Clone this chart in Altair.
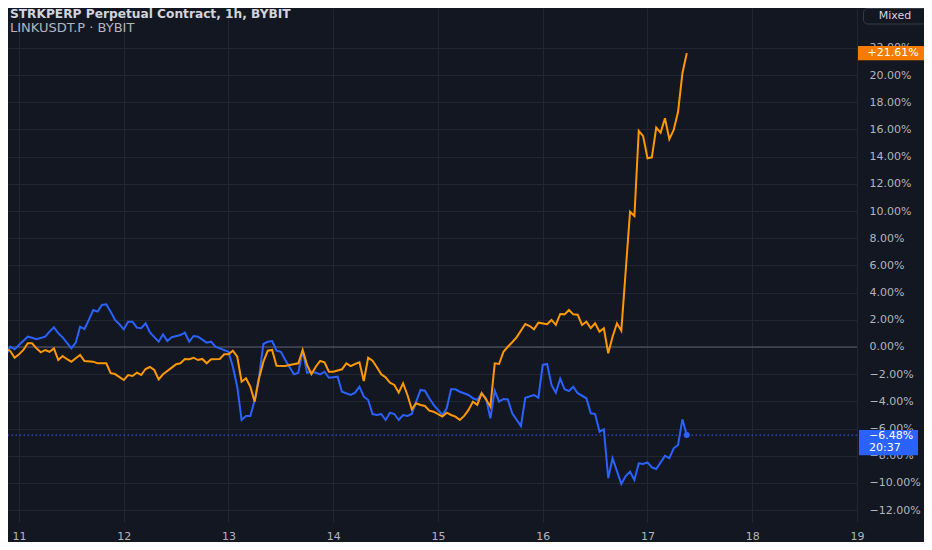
import altair as alt
import pandas as pd

# ---- data (hours after 11 Oct 00:00, % change) ----
strk_hours = [-4, -3, -2, -1, 0, 2, 3, 4, 6, 7, 8, 9, 10, 12, 13, 14, 15, 16, 17, 18,
              19, 20, 21, 22, 23, 24, 25, 26, 27, 28, 29, 30, 32, 33, 34, 35, 37, 38, 39, 40,
              41, 43, 44, 45, 46, 48, 49, 50, 51, 52, 53, 54, 55, 56, 57, 58, 59, 60, 61, 63,
              64, 65, 66, 67, 68, 69, 70, 71, 72, 73, 74, 76, 77, 78, 79, 80, 81, 82, 83, 84,
              85, 86, 87, 88, 89, 90, 91, 92, 93, 94, 95, 97, 98, 99, 100, 101, 103, 104, 105, 106,
              107, 108, 109, 110, 111, 112, 113, 115, 116, 118, 119, 120, 121, 122, 123, 124, 125, 126, 127, 128,
              130, 131, 132, 133, 134, 135, 136, 138, 139, 140, 141, 142, 143, 144, 145, 146, 148, 149, 150, 151,
              152, 153]
strk_pct = [0.27, -0.64, 0.02, -0.17, 0.15, 0.76, 0.68, 0.57, 0.76, 1.13, 1.45, 1.01, 0.71, -0.10, 0.32, 1.49, 1.32, 1.99, 2.72, 2.60,
            3.09, 3.14, 2.60, 1.99, 1.67, 1.30, 1.86, 1.86, 1.42, 1.38, 1.74, 1.08, 0.39, 0.93, 0.44, 0.72, 0.88, 1.05, 0.39, 0.81,
            0.76, 0.32, 0.39, 0.02, -0.10, -0.35, -1.45, -2.92, -5.37, -5.07, -5.07, -3.90, -2.18, 0.22, 0.39, 0.44, -0.27, -0.35, -0.96, -2.01,
            -1.89, -0.27, -1.89, -1.82, -1.89, -2.01, -1.82, -2.26, -2.22, -2.18, -3.29, -3.53, -3.36, -2.92, -3.65, -3.90, -4.93, -5.00, -4.93, -5.37,
            -4.83, -4.93, -5.37, -5.00, -5.07, -4.93, -4.02, -3.16, -3.21, -3.77, -4.26, -5.00, -4.51, -3.11, -3.11, -3.29, -3.53, -3.77, -3.90, -3.40,
            -3.77, -5.24, -3.21, -4.02, -3.82, -3.85, -4.88, -5.81, -3.73, -3.53, -3.73, -1.32, -1.25, -2.79, -3.36, -2.33, -3.11, -3.24, -2.92, -3.40,
            -3.77, -4.88, -4.93, -6.23, -6.05, -9.65, -8.18, -10.07, -9.49, -9.17, -9.78, -8.55, -8.60, -8.48, -8.85, -8.97, -8.01, -8.18, -7.45, -7.21,
            -5.32, -6.48]

link_hours = [-4, -3, -2, -1, 0, 1, 2, 3, 4, 5, 6, 7, 8, 9, 10, 11, 12, 13, 14, 15,
              17, 18, 20, 21, 22, 24, 25, 26, 27, 28, 29, 30, 31, 32, 33, 35, 36, 37, 38, 39,
              40, 41, 42, 43, 44, 46, 47, 48, 49, 50, 51, 52, 53, 54, 55, 56, 57, 58, 59, 61,
              62, 64, 65, 66, 67, 68, 69, 70, 71, 72, 74, 75, 76, 77, 78, 79, 80, 81, 82, 83,
              84, 85, 86, 87, 88, 89, 90, 91, 92, 93, 94, 95, 97, 98, 99, 100, 101, 102, 103, 104,
              105, 106, 107, 108, 109, 110, 111, 112, 113, 114, 116, 117, 118, 119, 121, 122, 123, 124, 125, 126,
              127, 128, 129, 130, 131, 132, 133, 134, 135, 136, 137, 138, 140, 141, 142, 143, 144, 145, 146, 147,
              148, 149, 150, 151, 152, 153]
link_pct = [0.02, -0.15, -0.29, -0.79, -0.54, -0.22, 0.27, 0.27, -0.10, -0.39, -0.22, -0.35, -0.10, -0.96, -0.66, -0.90, -1.08, -0.83, -0.59, -1.03,
            -1.08, -1.20, -1.20, -1.93, -1.99, -2.43, -2.06, -2.13, -1.89, -2.06, -1.62, -1.47, -1.69, -2.38, -2.01, -1.52, -1.27, -1.20, -0.88, -0.90,
            -0.79, -0.96, -0.88, -1.20, -0.90, -0.88, -0.54, -0.54, -0.27, -0.71, -2.55, -2.30, -2.92, -4.02, -2.30, -1.08, -0.27, -0.22, -1.38, -1.40,
            -1.32, -1.20, -0.22, -1.32, -1.99, -1.45, -1.03, -1.13, -1.82, -1.82, -1.64, -1.20, -1.40, -1.25, -1.13, -2.50, -0.79, -1.01, -1.49, -2.01,
            -2.23, -2.63, -2.79, -3.36, -2.67, -3.53, -4.58, -4.14, -4.26, -4.34, -4.68, -4.76, -5.12, -4.83, -5.00, -5.12, -5.37, -5.07, -4.63, -4.02,
            -4.26, -3.40, -3.85, -4.39, -1.20, -1.25, -0.35, 0.02, 0.35, 0.71, 1.69, 1.54, 1.30, 1.79, 1.67, 1.99, 1.62, 2.43, 2.40, 2.72,
            2.40, 2.38, 1.62, 1.86, 1.38, 1.74, 1.13, 1.38, -0.46, 0.76, 1.74, 1.20, 9.95, 9.63, 15.90, 15.51, 13.88, 13.95, 16.13, 15.76,
            16.82, 15.29, 15.96, 17.30, 20.13, 21.61]

y_ticks = [-12, -10, -8, -6, -4, -2, 0, 2, 4, 6, 8, 10, 12, 14, 16, 18, 20, 22]
x_ticks = [11, 12, 13, 14, 15, 16, 17, 18, 19]
title_main = "STRKPERP Perpetual Contract, 1h, BYBIT"
title_compare = "LINKUSDT.P · BYBIT"
countdown = "20:37"

BG = "#131722"
GRID = "#222631"
LABEL = "#b2b5be"
BLUE = "#2962ff"
ORANGE = "#ff9800"
FONT = "DejaVu Sans"
FS = 11

strk = pd.DataFrame({"day": [11 + h / 24 for h in strk_hours], "pct": strk_pct})
link = pd.DataFrame({"day": [11 + h / 24 for h in link_hours], "pct": link_pct})

xscale = alt.Scale(domain=[10.895, 19.0], nice=False, zero=False)
yscale = alt.Scale(domain=[-12.87, 24.93], nice=False, zero=False)
xaxis = alt.Axis(values=x_ticks, labelExpr="format(datum.value, 'd')", title=None,
                 grid=True, gridColor=GRID, domain=False, ticks=False,
                 labelColor=LABEL, labelFont=FONT, labelFontSize=FS,
                 labelPadding=14, labelBaseline="middle", labelFlush=False,
                 labelOverlap=False, labelBound=False)
yaxis = alt.Axis(values=y_ticks, orient="right",
                 labelExpr="format(datum.value, '.2f') + '%'", title=None,
                 grid=True, gridColor=GRID, domain=False, ticks=False,
                 labelColor=LABEL, labelFont=FONT, labelFontSize=FS,
                 labelPadding=12, labelAlign="left", labelBaseline="middle",
                 labelFlush=False, labelOverlap=False, labelBound=False)


def X(field="day"):
    return alt.X(f"{field}:Q", scale=xscale, axis=xaxis)


def Y(field="pct"):
    return alt.Y(f"{field}:Q", scale=yscale, axis=yaxis)


zero_line = alt.Chart(pd.DataFrame({"pct": [0.0]})).mark_rule(
    color="#5d606b", strokeWidth=1).encode(y=Y())

last_strk = strk_pct[-1]
last_link = link_pct[-1]

price_line = alt.Chart(pd.DataFrame({"pct": [last_strk]})).mark_rule(
    color=BLUE, strokeWidth=1, strokeDash=[1.5, 2.5]).encode(y=Y())

strk_line = alt.Chart(strk).mark_line(color=BLUE, strokeWidth=2, clip=True).encode(x=X(), y=Y())
link_line = alt.Chart(link).mark_line(color=ORANGE, strokeWidth=2, clip=True).encode(x=X(), y=Y())

end_dot = alt.Chart(strk.tail(1)).mark_circle(color=BLUE, size=36, opacity=1).encode(x=X(), y=Y())

# price badges on the right scale
link_badge = alt.Chart(pd.DataFrame({"pct": [last_link]})).mark_point(
    shape="M-1,-0.21H1V0.21H-1Z", size=68 * 68, filled=True, fill="#f57c00",
    opacity=1, strokeWidth=0).encode(x=alt.value(884), y=Y())
link_badge_text = alt.Chart(pd.DataFrame({"pct": [last_link],
                                          "t": [f"+{last_link:.2f}%"]})).mark_text(
    color="white", font=FONT, fontSize=FS, align="center", baseline="middle").encode(
    x=alt.value(885), y=Y(), text="t:N")

strk_badge = alt.Chart(pd.DataFrame({"pct": [last_strk]})).mark_point(
    shape="M-1,-0.17H1V0.68H-1Z", size=59 * 59, filled=True, fill=BLUE,
    opacity=1, strokeWidth=0).encode(x=alt.value(880.5), y=Y())
strk_badge_text = alt.Chart(pd.DataFrame({"pct": [last_strk],
                                          "t": [f"\u2212{abs(last_strk):.2f}%"]})).mark_text(
    color="white", font=FONT, fontSize=FS, align="left", baseline="middle", dy=1).encode(
    x=alt.value(861), y=Y(), text="t:N")
strk_badge_time = alt.Chart(pd.DataFrame({"pct": [last_strk], "t": [countdown]})).mark_text(
    color="white", font=FONT, fontSize=FS, align="left", baseline="middle", dy=13).encode(
    x=alt.value(861), y=Y(), text="t:N")

# legend / header texts
t1 = alt.Chart(pd.DataFrame({"t": [title_main]})).mark_text(
    color="#d1d4dc", font=FONT, fontSize=12.2, fontWeight="bold", align="left",
    baseline="alphabetic").encode(x=alt.value(2), y=alt.value(10), text="t:N")
t2 = alt.Chart(pd.DataFrame({"t": [title_compare]})).mark_text(
    color=LABEL, font=FONT, fontSize=13, align="left",
    baseline="alphabetic").encode(x=alt.value(2), y=alt.value(23.5), text="t:N")

mixed_box = alt.Chart(pd.DataFrame({"t": ["Mixed"]})).mark_rect(
    fill=BG, stroke="#363a45", strokeWidth=1, cornerRadius=4).encode(
    x=alt.value(855.5), x2=alt.value(918.5), y=alt.value(0.5), y2=alt.value(16))
mixed_text = alt.Chart(pd.DataFrame({"t": ["Mixed"]})).mark_text(
    color="#d1d4dc", font=FONT, fontSize=FS, align="center", baseline="middle").encode(
    x=alt.value(887), y=alt.value(8), text="t:N")

chart = alt.layer(
    zero_line, price_line, strk_line, link_line, end_dot,
    link_badge, link_badge_text, strk_badge, strk_badge_text, strk_badge_time,
    t1, t2, mixed_box, mixed_text,
).properties(
    width=849, height=514,
    autosize=alt.AutoSizeParams(type="none"),
    padding={"left": 0, "top": 0, "right": 67, "bottom": 20},
    background=BG,
).configure_view(stroke=None, fill=BG)

chart.save("out.html", embed_options={"renderer": "svg", "actions": False})
